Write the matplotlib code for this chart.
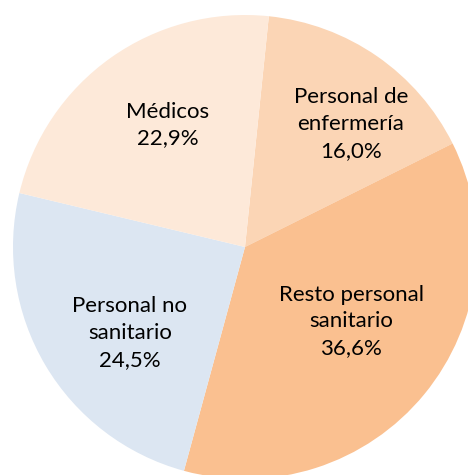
import numpy as np
import matplotlib.pyplot as plt

categories = ["Personal de\nenfermería", "Resto personal\nsanitario", "Personal no\nsanitario", "Médicos"]
values = [16.0, 36.6, 24.5, 22.9]
colors = ["#FBD5B5", "#FAC090", "#DCE6F2", "#FDE9D9"]

# label positions in units of the pie radius
label_xy = [(0.457, 0.530), (0.457, -0.320), (-0.496, -0.371), (-0.332, 0.526)]

plt.rcParams['font.family'] = ['Lato', 'DejaVu Sans']

fig = plt.figure(figsize=(4.68, 4.75), dpi=100)
ax = fig.add_axes([0, 0, 1, 1])

wedges, _ = ax.pie(values, colors=colors, startangle=84.1, counterclock=False,
                   radius=1.0, center=(0, 0))

for name, val, (x, y) in zip(categories, values, label_xy):
    txt = f"{name}\n{val:.1f}%".replace(".", ",")
    ax.text(x, y, txt, ha="center", va="center", fontsize=16, color="#000000",
            linespacing=1.42)

ax.set_aspect('auto')
ax.set_xlim(-245 / 232, (468 - 245) / 232)
ax.set_ylim(-(475 - 247) / 232, 247 / 232)
ax.axis('off')

fig.savefig("out.png", dpi=100)
